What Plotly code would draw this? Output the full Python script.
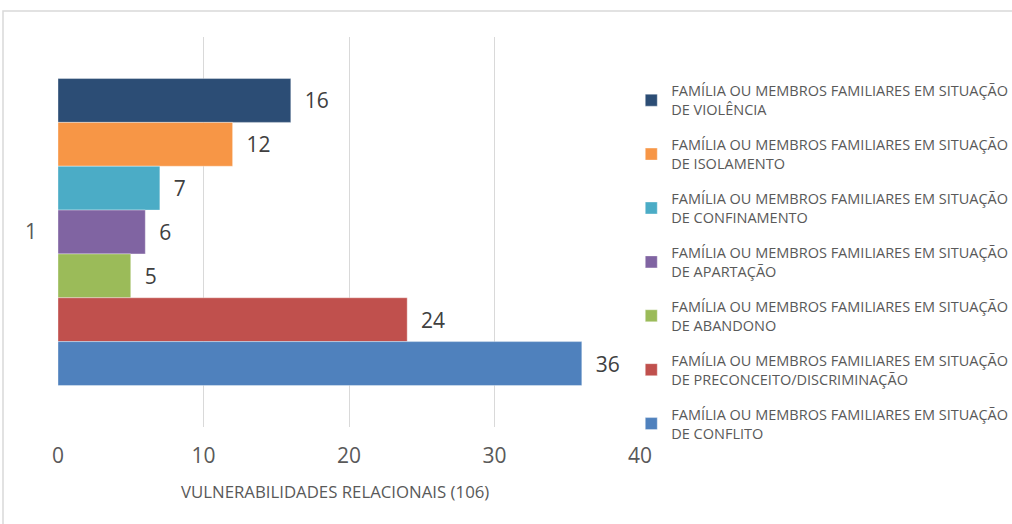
import plotly.graph_objects as go

category = ["1"]
series_names = [
    "FAMÍLIA OU MEMBROS FAMILIARES EM SITUAÇÃO<br>DE VIOLÊNCIA",
    "FAMÍLIA OU MEMBROS FAMILIARES EM SITUAÇÃO<br>DE ISOLAMENTO",
    "FAMÍLIA OU MEMBROS FAMILIARES EM SITUAÇÃO<br>DE CONFINAMENTO",
    "FAMÍLIA OU MEMBROS FAMILIARES EM SITUAÇÃO<br>DE APARTAÇÃO",
    "FAMÍLIA OU MEMBROS FAMILIARES EM SITUAÇÃO<br>DE ABANDONO",
    "FAMÍLIA OU MEMBROS FAMILIARES EM SITUAÇÃO<br>DE PRECONCEITO/DISCRIMINAÇÃO",
    "FAMÍLIA OU MEMBROS FAMILIARES EM SITUAÇÃO<br>DE CONFLITO",
]
values = [16, 12, 7, 6, 5, 24, 36]
colors = ["#2C4D75", "#F79646", "#4BACC6", "#8064A2", "#9BBB59", "#C0504D", "#4F81BD"]
x_ticks = [0, 10, 20, 30, 40]
x_title = "VULNERABILIDADES RELACIONAIS (106)"

FONT = "Open Sans"

fig = go.Figure()
for i, (name, v, c) in enumerate(zip(series_names, values, colors)):
    fig.add_trace(go.Bar(
        y=category, x=[v], name=name, orientation="h",
        marker=dict(color=c, line=dict(color="rgba(255,255,255,0.6)", width=0.6)),
        text=[v], texttemplate="\u00a0\u00a0%{x}", textposition="outside",
        textfont=dict(family=FONT, size=21, color="#404040"),
        cliponaxis=False, legendgroup=f"g{i}",
    ))

fig.update_layout(
    width=1012, height=524,
    margin=dict(l=58, r=372, t=37, b=97, autoexpand=False),
    paper_bgcolor="white", plot_bgcolor="white",
    barmode="group", bargap=0.213,
    font=dict(family=FONT, color="#595959"),
    showlegend=True,
    legend=dict(
        x=0.985, xanchor="left", y=0.903, yanchor="top",
        font=dict(family=FONT, size=14.5, color="#595959"),
        tracegroupgap=13.2, itemwidth=30,
        bgcolor="rgba(0,0,0,0)",
    ),
    xaxis=dict(
        range=[0, 40], tickvals=x_ticks, showgrid=True, gridcolor="#d9d9d9", gridwidth=1,
        zeroline=False, showline=False,
        tickfont=dict(family=FONT, size=21, color="#595959"),
        ticklabelstandoff=14,
    ),
    yaxis=dict(
        type="category", autorange="reversed", showgrid=False, zeroline=False, showline=False,
        tickfont=dict(family=FONT, size=21, color="#595959"),
        ticklabelstandoff=20,
    ),
    annotations=[dict(
        text=x_title, xref="paper", yref="paper", x=0.5, y=0, xshift=-14, yshift=-64,
        xanchor="center", yanchor="middle", showarrow=False,
        font=dict(family=FONT, size=16.8, color="#595959"),
    )],
    shapes=[dict(
        type="rect", xref="paper", yref="paper",
        x0=-55 / 582, x1=1100 / 582, y0=-200 / 390, y1=1 + 26 / 390,
        line=dict(color="#d9d9d9", width=1.5), fillcolor="rgba(0,0,0,0)", layer="below",
    )],
)

fig.write_html("out.html", config={"displayModeBar": False},
               post_script="document.body.style.margin='0';")
